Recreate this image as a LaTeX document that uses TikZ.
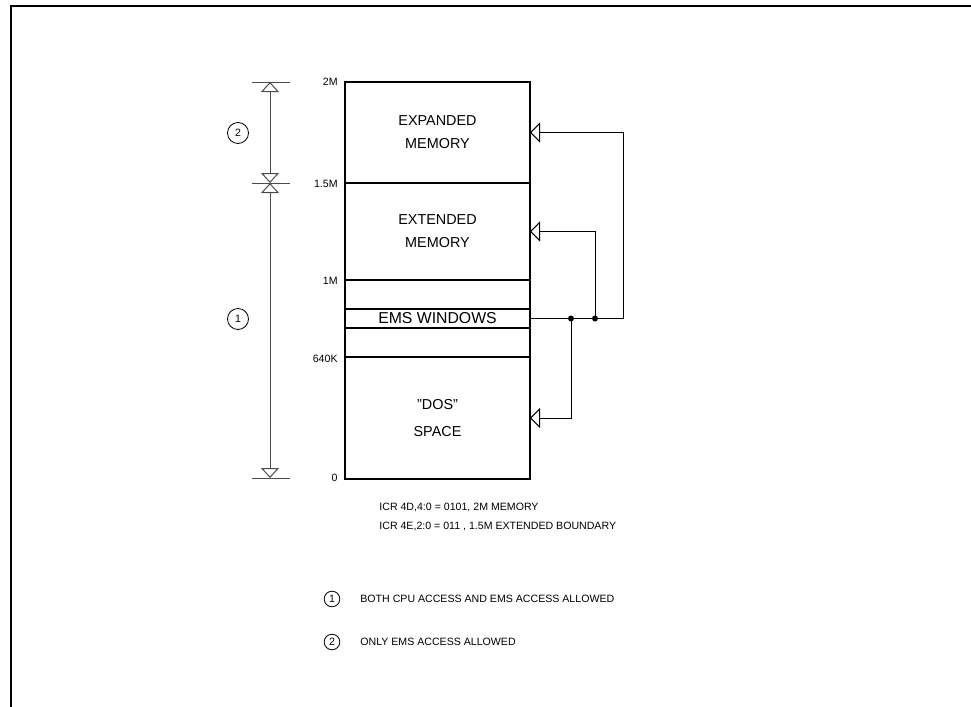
\documentclass[tikz,border=0pt]{standalone}
\usepackage{fontspec}
\setmainfont{Liberation Sans}
\usetikzlibrary{arrows.meta,positioning}

\begin{document}
\begin{tikzpicture}[
	x=0.5pt,y=-0.5pt,
	>={Triangle[open,length=5pt,width=10pt]},
	dimtip/.tip={Triangle[open,length=5pt,width=9pt]},
	region/.style={draw,line width=1pt,minimum width=92.5pt,inner sep=0,outer sep=0,align=center,font=\fontsize{7.2}{11.5}\selectfont},
	band/.style={region,line width=0.8pt},
	addr/.style={anchor=east,inner sep=0,font=\fontsize{5.3}{6}\selectfont},
	num/.style={draw,circle,minimum size=10.5pt,inner sep=0,font=\fontsize{5.3}{6}\selectfont},
	smallnum/.style={num,minimum size=7.8pt},
	note/.style={anchor=west,inner sep=0,font=\fontsize{5.3}{6}\selectfont},
	dimline/.style={black!70,line width=0.5pt},
	wire/.style={line width=0.5pt}
	]
	\useasboundingbox (0,0) rectangle (971,707);
	\draw[line width=1pt] (10.5,707) -- (10.5,6) -- (971,6);
	% memory map
	\node[region,minimum height=50.5pt] (expanded) at (437.5,132.5) {EXPANDED\\MEMORY};
	\node[region,minimum height=48.5pt,below=0pt of expanded] (extended) {EXTENDED\\MEMORY};
	\node[band,minimum height=14.5pt,below=0pt of extended] (spareA) {};
	\node[band,minimum height=9.5pt,below=0pt of spareA,font=\fontsize{7.9}{9}\selectfont] (ems) {EMS WINDOWS};
	\node[band,minimum height=14.5pt,below=0pt of ems] (spareB) {};
	\node[region,minimum height=61pt,below=0pt of spareB] (dos) {"DOS"\\[2pt]SPACE};
	\draw[line width=1pt] (expanded.north west) rectangle (dos.south east);
	% addresses
	\node[addr] (l2M) at (338,82) {2M};
	\node[addr] (l15M) at (338,184) {1.5M};
	\node[addr] (l1M) at (338,281) {1M};
	\node[addr] (l640K) at (338,359) {640K};
	\node[addr] (l0) at (338,478) {0};
	% access ranges
	\coordinate (d2M) at (270,82);
	\coordinate (d15M) at (270,183);
	\coordinate (d0) at (270,478);
	\draw[dimline] (252,82) -- (290,82);
	\draw[dimline] (252,183) -- (290,183);
	\draw[dimline] (252,478) -- (290,478);
	\draw[dimline,dimtip-dimtip] (d2M) -- (d15M);
	\draw[dimline,dimtip-dimtip] (d15M) -- (d0);
	\node[num] (n2) at (238,133) {2};
	\node[num] (n1) at (238,319) {1};
	% windows mapping
	\coordinate (jA) at (571,318.5);
	\coordinate (jB) at (595,318.5);
	\coordinate (jC) at (623,318.5);
	\draw[wire,->] (ems.east) -- (jC) |- (expanded.east);
	\draw[wire,->] (jB) |- (extended.east);
	\draw[wire,->] (jA) |- (dos.east);
	\fill (jA) circle (1.5pt);
	\fill (jB) circle (1.5pt);
	% notes
	\node[note] (icrA) at (379,507) {ICR 4D,4:0 = 0101, 2M MEMORY};
	\node[note] (icrB) at (379,526) {ICR 4E,2:0 = 011 , 1.5M EXTENDED BOUNDARY};
	\node[smallnum] (k1) at (332,599) {1};
	\node[note] (t1) at (360,599) {BOTH CPU ACCESS AND EMS ACCESS ALLOWED};
	\node[smallnum] (k2) at (332,642) {2};
	\node[note] (t2) at (360,642) {ONLY EMS ACCESS ALLOWED};
\end{tikzpicture}
\end{document}
